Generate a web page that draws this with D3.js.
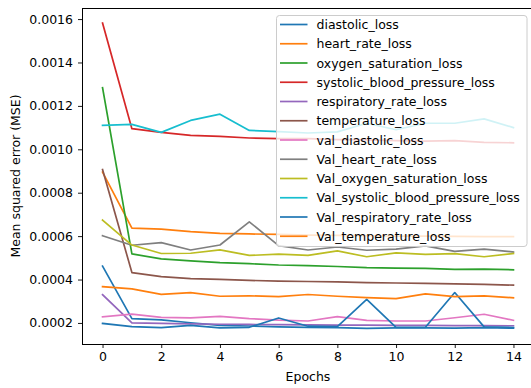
<!DOCTYPE html>
<html>
<head>
<meta charset="utf-8">
<script src="https://cdn.jsdelivr.net/npm/d3@7"></script>
<style>
  html, body { margin: 0; padding: 0; background: #fff; overflow: hidden; }
  svg { display: block; font-family: "DejaVu Sans", sans-serif; }
</style>
</head>
<body>
<svg id="chart" width="531" height="388"></svg>
<script>
const epochs = [0, 1, 2, 3, 4, 5, 6, 7, 8, 9, 10, 11, 12, 13, 14];

const diastolic_loss = [0.000462, 0.000220, 0.000214, 0.000201, 0.000189, 0.000186, 0.000182, 0.000180, 0.000178, 0.000175, 0.000177, 0.000177, 0.000176, 0.000178, 0.000176];
const heart_rate_loss = [0.000895, 0.000637, 0.000632, 0.000621, 0.000613, 0.000610, 0.000608, 0.000605, 0.000603, 0.000602, 0.000600, 0.000600, 0.000599, 0.000598, 0.000598];
const oxygen_saturation_loss = [0.001284, 0.000518, 0.000495, 0.000486, 0.000478, 0.000473, 0.000467, 0.000464, 0.000460, 0.000455, 0.000453, 0.000451, 0.000447, 0.000448, 0.000445];
const systolic_blood_pressure_loss = [0.001582, 0.001095, 0.001078, 0.001064, 0.001060, 0.001052, 0.001049, 0.001049, 0.001045, 0.001043, 0.001040, 0.001038, 0.001040, 0.001032, 0.001030];
const respiratory_rate_loss = [0.000330, 0.000200, 0.000198, 0.000196, 0.000194, 0.000193, 0.000192, 0.000191, 0.000190, 0.000190, 0.000189, 0.000189, 0.000188, 0.000188, 0.000187];
const temperature_loss = [0.000907, 0.000432, 0.000413, 0.000404, 0.000401, 0.000396, 0.000393, 0.000391, 0.000389, 0.000386, 0.000384, 0.000382, 0.000380, 0.000378, 0.000374];
const val_diastolic_loss = [0.000228, 0.000241, 0.000226, 0.000223, 0.000230, 0.000220, 0.000213, 0.000209, 0.000229, 0.000212, 0.000209, 0.000209, 0.000224, 0.000240, 0.000212];
const val_heart_rate_loss = [0.000602, 0.000558, 0.000570, 0.000536, 0.000559, 0.000666, 0.000556, 0.000536, 0.000550, 0.000535, 0.000540, 0.000555, 0.000530, 0.000540, 0.000527];
const val_oxygen_saturation_loss = [0.000674, 0.000559, 0.000520, 0.000521, 0.000537, 0.000511, 0.000517, 0.000511, 0.000532, 0.000505, 0.000523, 0.000516, 0.000519, 0.000505, 0.000520];
const val_systolic_blood_pressure_loss = [0.001110, 0.001115, 0.001078, 0.001133, 0.001162, 0.001087, 0.001081, 0.001075, 0.001080, 0.001120, 0.001090, 0.001120, 0.001120, 0.001140, 0.001100];
const val_respiratory_rate_loss = [0.000198, 0.000183, 0.000178, 0.000189, 0.000177, 0.000180, 0.000223, 0.000185, 0.000183, 0.000309, 0.000180, 0.000180, 0.000340, 0.000182, 0.000179];
const val_temperature_loss = [0.000367, 0.000357, 0.000332, 0.000340, 0.000323, 0.000325, 0.000321, 0.000331, 0.000323, 0.000317, 0.000312, 0.000334, 0.000321, 0.000325, 0.000316];

const seriesNames = ["diastolic_loss", "heart_rate_loss", "oxygen_saturation_loss", "systolic_blood_pressure_loss", "respiratory_rate_loss", "temperature_loss", "val_diastolic_loss", "Val_heart_rate_loss", "Val_oxygen_saturation_loss", "Val_systolic_blood_pressure_loss", "Val_respiratory_rate_loss", "Val_temperature_loss"];
const seriesValues = [diastolic_loss, heart_rate_loss, oxygen_saturation_loss, systolic_blood_pressure_loss, respiratory_rate_loss, temperature_loss, val_diastolic_loss, val_heart_rate_loss, val_oxygen_saturation_loss, val_systolic_blood_pressure_loss, val_respiratory_rate_loss, val_temperature_loss];
const colors = ["#1f77b4", "#ff7f0e", "#2ca02c", "#d62728", "#9467bd", "#8c564b", "#e377c2", "#7f7f7f", "#bcbd22", "#17becf", "#1f77b4", "#ff7f0e"];

const xTicks = [0, 2, 4, 6, 8, 10, 12, 14];
const yTicks = [0.0002, 0.0004, 0.0006, 0.0008, 0.0010, 0.0012, 0.0014, 0.0016];
const xLabel = "Epochs";
const yLabel = "Mean squared error (MSE)";

const FS = "12.5px";
const svg = d3.select("#chart");
const W = 531, H = 388;
const plot = { left: 82, right: 534, top: 8, bottom: 344 };

svg.append("rect").attr("width", W).attr("height", H).attr("fill", "#fff");

const x = d3.scaleLinear().domain([-0.7, 14.7]).range([plot.left, plot.right]);
const y = d3.scaleLinear().domain([0.000103, 0.001651]).range([plot.bottom, plot.top]);

// Lines
const line = d3.line().x((d, i) => x(epochs[i])).y(d => y(d));
const g = svg.append("g");
seriesValues.forEach((vals, k) => {
  g.append("path")
    .datum(vals)
    .attr("d", line)
    .attr("fill", "none")
    .attr("stroke", colors[k])
    .attr("stroke-width", 1.7)
    .attr("stroke-linejoin", "round")
    .attr("stroke-linecap", "square");
});

// Axes
const xAxis = d3.axisBottom(x).tickValues(xTicks).tickSize(4).tickPadding(4).tickFormat(d3.format("d"));
const yAxis = d3.axisLeft(y).tickValues(yTicks).tickSize(4).tickPadding(5).tickFormat(d3.format(".4f"));

const gx = svg.append("g").attr("transform", `translate(0,${plot.bottom})`).call(xAxis);
const gy = svg.append("g").attr("transform", `translate(${plot.left},0)`).call(yAxis);
[gx, gy].forEach(a => {
  a.select(".domain").remove();
  a.selectAll("line").attr("stroke", "#000").attr("stroke-width", 0.9);
  a.selectAll("text").attr("fill", "#000").style("font-size", FS).style("font-family", "DejaVu Sans");
});

// Spines
svg.append("rect")
  .attr("x", plot.left + 0.5).attr("y", plot.top + 0.5)
  .attr("width", plot.right - plot.left).attr("height", plot.bottom - plot.top)
  .attr("fill", "none").attr("stroke", "#000").attr("stroke-width", 1);

// Axis labels
svg.append("text").attr("x", (plot.left + plot.right) / 2).attr("y", 381)
  .attr("text-anchor", "middle").style("font-size", FS).attr("fill", "#000").text(xLabel);
svg.append("text").attr("transform", `translate(20,${(plot.top + plot.bottom) / 2}) rotate(-90)`)
  .attr("text-anchor", "middle").style("font-size", FS).attr("fill", "#000").text(yLabel);

// Legend
const lg = svg.append("g");
lg.append("rect")
  .attr("x", 276.5).attr("y", 15.5).attr("width", 250.5).attr("height", 231)
  .attr("rx", 3).attr("ry", 3)
  .attr("fill", "#fff").attr("fill-opacity", 0.8)
  .attr("stroke", "#cccccc").attr("stroke-width", 1);
const rowH = 19.25;
seriesNames.forEach((name, k) => {
  const cy = 24.5 + k * rowH;
  lg.append("line").attr("x1", 280).attr("x2", 307.5).attr("y1", cy).attr("y2", cy)
    .attr("stroke", colors[k]).attr("stroke-width", 1.7);
  lg.append("text").attr("x", 316.5).attr("y", cy + 4.6)
    .style("font-size", FS).attr("fill", "#000").text(name);
});
</script>
</body>
</html>
